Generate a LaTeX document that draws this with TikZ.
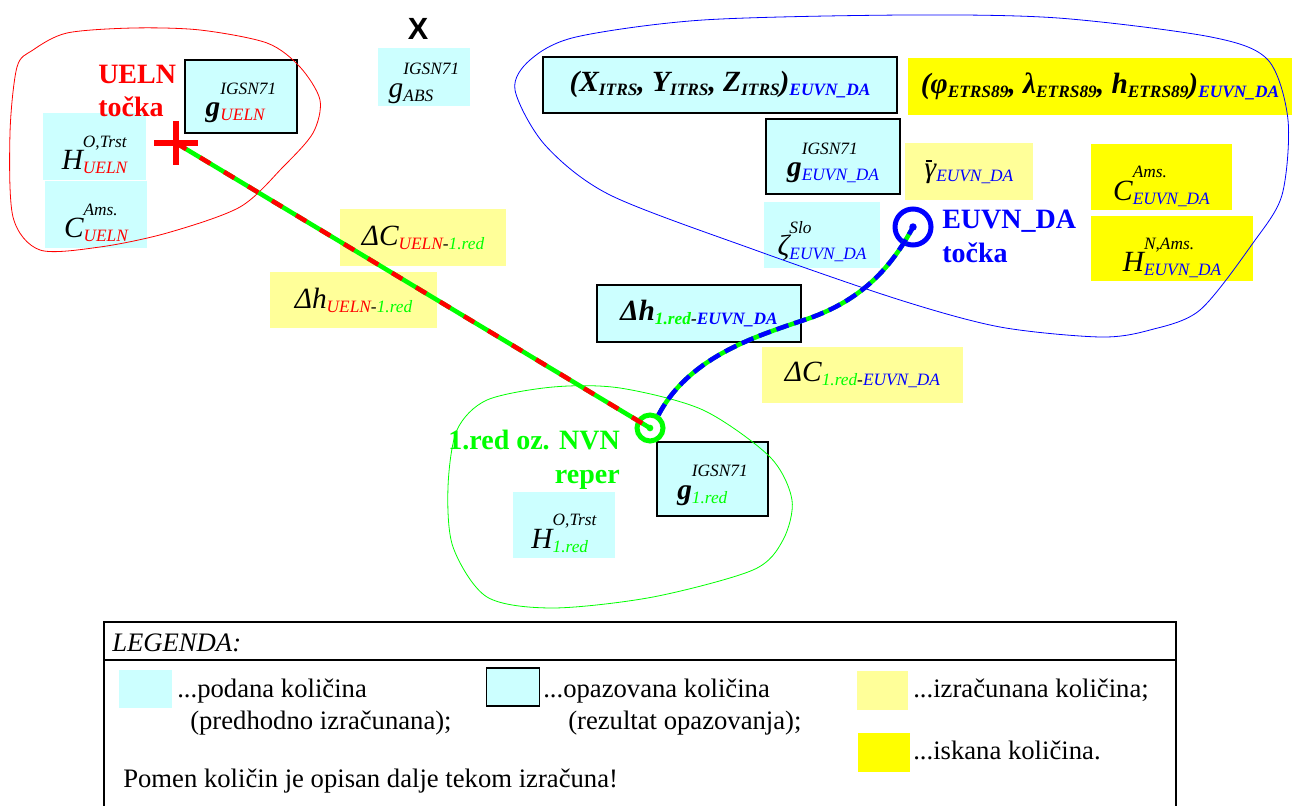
\documentclass[tikz,border=0pt]{standalone}
\usepackage{fontspec}
\setmainfont{Liberation Serif}
\setsansfont{Liberation Sans}
\usetikzlibrary{calc}

\definecolor{podanaC}{HTML}{CCFFFF}
\definecolor{izracunanaC}{HTML}{FFFF99}
\definecolor{iskanaC}{HTML}{FFFF00}

% Schriftgroessen
\newcommand{\grossT}{\fontsize{22}{26}\selectfont}
\newcommand{\kleinT}{\fontsize{13}{20}\selectfont}
\newcommand{\unten}[1]{\raisebox{-3pt}{\kleinT #1}}
\newcommand{\kol}[4]{{\grossT #1}\raisebox{-3pt}[35pt][0pt]{\kleinT\begin{tabular}[b]{@{}l@{}}#2\\\color{#3}#4\end{tabular}}}
\newcommand{\strich}{\rlap{\raisebox{0.52em}{\kern0.04em\rule{0.22em}{0.07em}}}}

\tikzset{
    kolicina/.style={inner sep=0pt, font=\itshape},
    podana/.style={kolicina, fill=podanaC},
    opazovana/.style={kolicina, fill=podanaC, draw=black, line width=1.6pt},
    izracunana/.style={kolicina, fill=izracunanaC},
    iskana/.style={kolicina, fill=iskanaC},
    tocka/.style={font=\fontsize{21}{25}\selectfont\bfseries, inner sep=0pt},
    obmocje/.style={line width=0.6pt},
    legtext/.style={font=\fontsize{20}{22}\selectfont, anchor=base west, inner sep=0pt},
}

\begin{document}
\begin{tikzpicture}[x=0.75pt, y=-0.75pt]
\useasboundingbox (0,0) rectangle (1295,806);

% UELN
\node[opazovana, minimum width=84pt, minimum height=54.75pt] (gueln) at (241,96.5) {\kol{\bfseries g}{IGSN71}{red}{UELN}};
\node[podana, minimum width=77.25pt, minimum height=50.25pt] (hueln) at (94.5,146.5) {\kol{H}{O,Trst}{red}{UELN}};
\node[podana, minimum width=76.5pt, minimum height=50.25pt] (cueln) at (96,214.5) {\kol{C}{Ams.}{red}{UELN}};
\node[tocka, red, align=left, anchor=north west] (uelnlab) at (98,65) {UELN\\točka};
\node[podana, minimum width=69pt, minimum height=43.5pt] (gabs) at (424,77) {\kol{g}{IGSN71}{black}{ABS}};
\node[font=\sffamily\bfseries\fontsize{23}{23}\selectfont, inner sep=0pt] (iks) at (418,29) {X};

% Differenzen
\node[izracunana, minimum width=124.5pt, minimum height=42.75pt] (dcueln) at (423,237.5) {{\grossT ΔC}\unten{\color{red}UELN\color{black}-\color{green}1.red}};
\node[izracunana, minimum width=125.25pt, minimum height=42pt] (dhueln) at (353.5,300) {{\grossT Δh}\unten{\color{red}UELN\color{black}-\color{green}1.red}};
\node[opazovana, minimum width=153pt, minimum height=42.75pt] (dhred) at (699,313.5) {\bfseries{\grossT Δh}\unten{\color{green}1.red\color{black}-\color{blue}EUVN\_DA}};
\node[izracunana, minimum width=150.75pt, minimum height=42pt] (dcred) at (862.5,375) {{\grossT ΔC}\unten{\color{green}1.red\color{black}-\color{blue}EUVN\_DA}};

% 1.red
\node[opazovana, minimum width=83.25pt, minimum height=55.5pt] (gred) at (712.5,479) {\kol{\bfseries g}{IGSN71}{green}{1.red}};
\node[podana, minimum width=76.5pt, minimum height=49.5pt] (hred) at (564,525) {\kol{H}{O,Trst}{green}{1.red}};
\node[tocka, green, align=right, anchor=north east] (redlab) at (620,430) {1.red oz. NVN\\reper};

% EUVN_DA
\node[opazovana, minimum width=265.5pt, minimum height=42pt] (xyz) at (720,85) {\bfseries{\grossT(X}\unten{ITRS}{\grossT, Y}\unten{ITRS}{\grossT, Z}\unten{ITRS}{\grossT)}\unten{\color{blue}EUVN\_DA}};
\node[iskana, minimum width=288pt, minimum height=42.75pt] (flh) at (1100,86.5) {\bfseries{\grossT(φ}\unten{ETRS89}{\grossT, λ}\unten{ETRS89}{\grossT, h}\unten{ETRS89}{\grossT)}\unten{\color{blue}EUVN\_DA}};
\node[opazovana, minimum width=100.5pt, minimum height=56.25pt] (geuvn) at (833,156.5) {\kol{\bfseries g}{IGSN71}{blue}{EUVN\_DA}};
\node[izracunana, minimum width=96pt, minimum height=42.75pt] (gamma) at (969,171.5) {{\grossT\strich γ}\unten{\color{blue}EUVN\_DA}};
\node[iskana, minimum width=105.75pt, minimum height=49.5pt] (ceuvn) at (1161.5,177) {\kol{C}{Ams.}{blue}{EUVN\_DA}};
\node[iskana, minimum width=121.5pt, minimum height=48.75pt] (heuvn) at (1172,248.5) {\kol{H}{N,Ams.}{blue}{EUVN\_DA}};
\node[podana, minimum width=87pt, minimum height=49.5pt] (zeta) at (822,235) {\kol{ζ}{Slo}{blue}{EUVN\_DA}};
\node[tocka, blue, align=left, anchor=north west] (euvnlab) at (942,210) {EUVN\_DA\\točka};

% Bereiche
\draw[red, obmocje] plot[smooth cycle] coordinates {(33,50) (67,33) (133,28) (200,30) (267,43) (300,67) (320,100) (313,133) (283,167) (240,207) (167,233) (100,247) (40,250) (13,217) (10,133) (17,67)};
\draw[green, obmocje] plot[smooth cycle] coordinates {(457,430) (487,400) (553,387) (620,388) (703,410) (770,457) (792,500) (783,540) (753,570) (653,597) (553,608) (487,597) (453,547) (448,487)};
\draw[blue, obmocje] plot[smooth cycle] coordinates {(1211,37) (1268,60) (1288,120) (1282,195) (1253,243) (1200,310) (1150,330) (1100,337) (1000,327) (900,300) (755,250) (610,195) (545,145) (515,90) (530,60) (576,37) (703,20) (906,15) (1058,18)};

% Punkte
\coordinate (ueln) at (176,143);
\node[circle, draw=green, line width=3.75pt, minimum size=19.5pt, inner sep=0pt] (nvn) at (650,428) {};
\node[circle, draw=blue, line width=3.75pt, minimum size=27pt, inner sep=0pt] (euvn) at (913,227) {};

% Verbindungen
\draw[green, line width=3.4pt, postaction={draw=red, dash pattern=on 9pt off 12pt}] (ueln) -- (nvn.center);
\draw[green, line width=3.4pt, postaction={draw=blue, dash pattern=on 9.5pt off 4.5pt}] (nvn.57) .. controls (690,355) and (760,335) .. (810,318) .. controls (860,300) and (890,270) .. (euvn.center);
\fill[green] (nvn) circle (2.5pt);
\fill[blue] (euvn) circle (2.8pt);
\draw[red, line width=4pt] ($(ueln)+(-22,0)$) -- ($(ueln)+(22,0)$);
\draw[red, line width=4pt] ($(ueln)+(0,-22)$) -- ($(ueln)+(0,22)$);

% Legende
\draw[line width=1.5pt] (104,622) rectangle (1176,830);
\draw[line width=1.5pt] (104,660) -- (1176,660);
\node[legtext, font=\fontsize{20}{22}\selectfont\itshape] (legenda) at (112,651) {LEGENDA:};
\node[podana, minimum width=39.75pt, minimum height=28.5pt] (lpodana) at (145.5,689) {};
\node[opazovana, line width=1.2pt, minimum width=39.75pt, minimum height=28.5pt] (lopaz) at (513,687) {};
\node[izracunana, minimum width=38.25pt, minimum height=29.25pt] (lizrac) at (882.5,690.5) {};
\node[iskana, minimum width=39pt, minimum height=29.25pt] (liskana) at (884,752.5) {};
\node[legtext] (tpodana) at (177,697) {...podana količina};
\node[legtext] (tpodana2) at (190,729) {(predhodno izračunana);};
\node[legtext] (topaz) at (543,697) {...opazovana količina};
\node[legtext] (topaz2) at (568,729) {(rezultat opazovanja);};
\node[legtext] (tizrac) at (913,697) {...izračunana količina;};
\node[legtext] (tiskana) at (913,759) {...iskana količina.};
\node[legtext] (pomen) at (123,787) {Pomen količin je opisan dalje tekom izračuna!};
\end{tikzpicture}
\end{document}
